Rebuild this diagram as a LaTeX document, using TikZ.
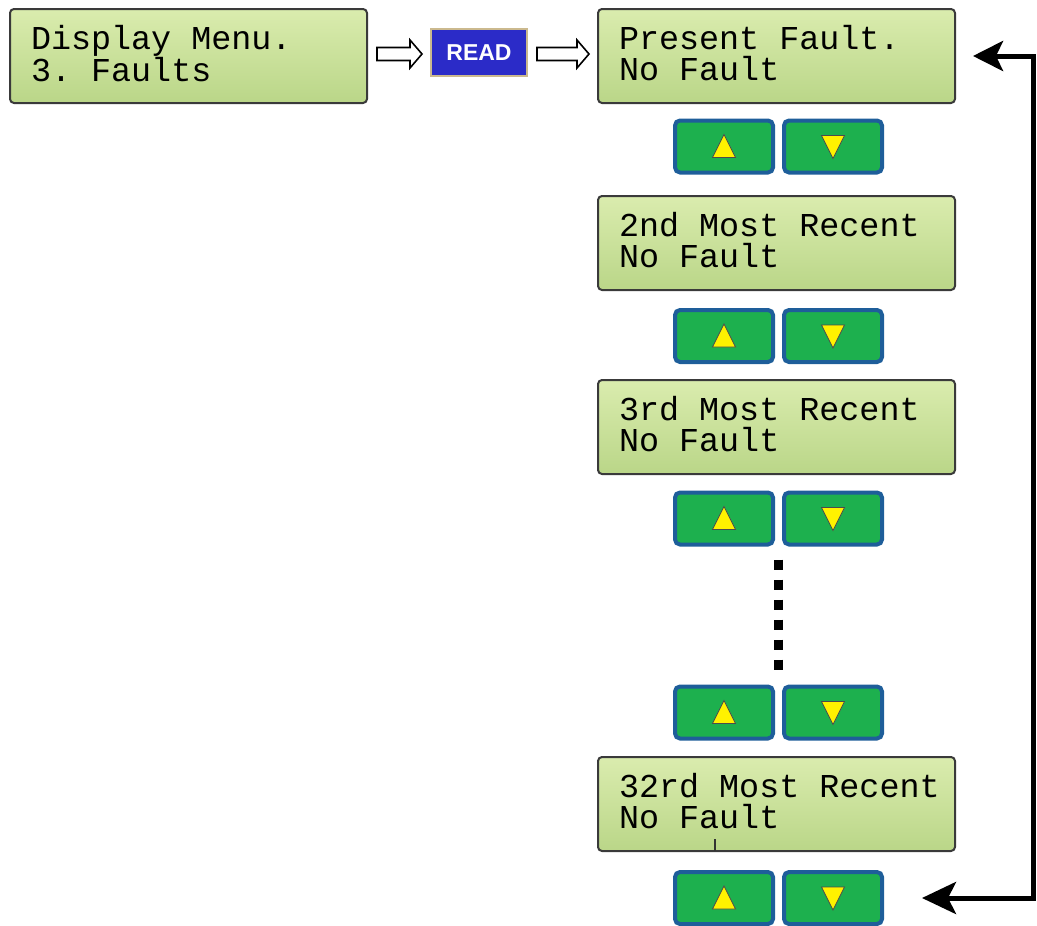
\documentclass[tikz,border=0pt]{standalone}
\usepackage{fontspec}
\newfontfamily\lcdfont{Liberation Mono}
\newfontfamily\btnfont{Liberation Sans}
\usetikzlibrary{arrows.meta,calc}
\definecolor{lcdtop}{HTML}{DAECAE}
\definecolor{lcdbot}{HTML}{BAD688}
\definecolor{lcdedge}{HTML}{3A3A3A}
\definecolor{btngreen}{HTML}{1DB04E}
\definecolor{btnedge}{HTML}{1E5E9A}
\definecolor{readblue}{HTML}{2B2BC8}
\definecolor{readedge}{HTML}{CBB98E}
\definecolor{triyellow}{HTML}{FFF200}
\newcommand\lcdtype{\lcdfont\fontsize{33.4}{31}\selectfont\hyphenpenalty=10000\exhyphenpenalty=10000\hbadness=10000\hfuzz=100pt}
\newcommand\lcdgap{\kern0.6em\relax}
\newcommand\lcdend{\rule[-6pt]{0pt}{6pt}}
% hollow block arrow from coordinate #1 to coordinate #2 (same y)
\newcommand\hollowarr[2]{%
  \draw[line width=1.6pt, fill=white, line join=miter]
    ($(#1)+(0,6.5)$) -- ($(#2)+(-12,6.5)$) -- ($(#2)+(-12,14)$) -- (#2)
    -- ($(#2)+(-12,-14)$) -- ($(#2)+(-12,-6.5)$) -- ($(#1)+(0,-6.5)$) -- cycle;}
\tikzset{
  lcd/.style={draw=lcdedge, line width=2pt, rounded corners=4pt,
    top color=lcdtop, bottom color=lcdbot,
    minimum width=357pt, minimum height=94pt, text width=315pt,
    inner xsep=21pt, align=left, font=\lcdtype},
  btn/.style={draw=btnedge, line width=4pt, rounded corners=5pt, fill=btngreen,
    minimum width=98pt, minimum height=52pt, inner sep=0pt},
  upbtn/.style={btn, path picture={
    \filldraw[fill=triyellow, draw=black!70, line width=0.8pt, rounded corners=0pt]
      ($(path picture bounding box.center)+(-11.5,-11)$) -- ++(23,0)
      -- ($(path picture bounding box.center)+(0,12)$) -- cycle;}},
  downbtn/.style={btn, path picture={
    \filldraw[fill=triyellow, draw=black!70, line width=0.8pt, rounded corners=0pt]
      ($(path picture bounding box.center)+(-11.5,11)$) -- ++(23,0)
      -- ($(path picture bounding box.center)+(0,-12)$) -- cycle;}},
  readbtn/.style={draw=readedge, line width=2pt, fill=readblue, text=white,
    minimum width=96pt, minimum height=47pt, inner sep=0pt,
    font=\btnfont\bfseries\fontsize{23}{23}\selectfont},
  loopline/.style={line width=5pt,
    {Stealth[length=34pt,width=32pt,inset=8pt]}-{Stealth[length=30pt,width=30pt,inset=7pt]},
    shorten <=38pt, shorten >=17pt},
  dots/.style={line width=9pt, dash pattern=on 10pt off 10pt}
}
\begin{document}
\begin{tikzpicture}[x=1pt,y=1pt]
\useasboundingbox (0,0) rectangle (1037,-926);
% screens
\node[lcd] (menu) at (188.5,-56) {Display\lcdgap Menu.\\3.\lcdgap Faults\lcdend};
\node[readbtn] (read) at (479,-52.5) {READ};
\node[lcd] (s1) at (776.5,-56) {Present\lcdgap Fault.\\No\lcdgap Fault\lcdend};
\node[lcd] (s2) at (776.5,-243) {2nd\lcdgap Most\lcdgap Recent\\No\lcdgap Fault\lcdend};
\node[lcd] (s3) at (776.5,-427) {3rd\lcdgap Most\lcdgap Recent\\No\lcdgap Fault\lcdend};
\node[lcd] (s32) at (776.5,-804) {32rd\lcdgap Most\lcdgap Recent\\No\lcdgap Fault\lcdend};
% buttons
\node[upbtn] (u1) at (724,-146.5) {};
\node[downbtn] (d1) at (833,-146.5) {};
\node[upbtn] (u2) at (724,-336) {};
\node[downbtn] (d2) at (833,-336) {};
\node[upbtn] (u3) at (724,-518.5) {};
\node[downbtn] (d3) at (833,-518.5) {};
\node[upbtn] (u4) at (724,-712.5) {};
\node[downbtn] (d4) at (833,-712.5) {};
\node[upbtn] (u5) at (724,-898) {};
\node[downbtn] (d5) at (833,-898) {};
% hollow arrows
\coordinate (a1s) at ($(menu.east |- read.west)+(9,-1.5)$);
\coordinate (a1e) at ($(read.west)+(-8,-1.5)$);
\coordinate (a2s) at ($(read.east)+(9,-1.5)$);
\coordinate (a2e) at ($(s1.west |- read.east)+(-8,-1.5)$);
\hollowarr{a1s}{a1e}
\hollowarr{a2s}{a2e}
% dotted continuation
\coordinate (gtop) at ($(u3.south east)!0.5!(d3.south west)$);
\coordinate (gbot) at ($(u4.north east)!0.5!(d4.north west)$);
\draw[dots] ($(gtop)+(0,-13)$) -- ($(gbot)+(0,12)$);
% small tick in last screen
\draw[line width=1.2pt, black!80] ($(s32.south)+(-61.5,1)$) -- ++(0,12);
% loop back
\coordinate (rx) at (1033,0);
\draw[loopline] (d5.east) -- (d5.east -| rx) -- (s1.east -| rx) -- (s1.east);
\end{tikzpicture}
\end{document}
